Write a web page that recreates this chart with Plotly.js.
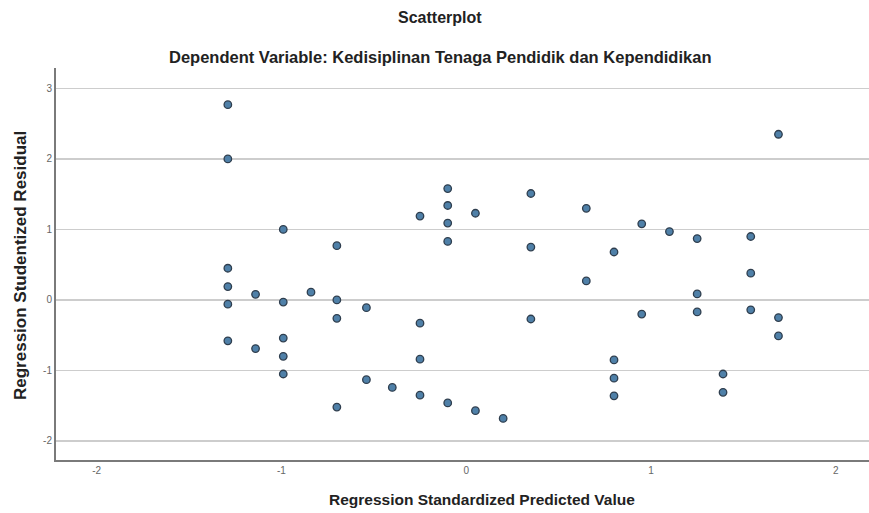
<!DOCTYPE html>
<html>
<head>
<meta charset="utf-8">
<script src="https://cdn.plot.ly/plotly-3.0.1.min.js"></script>
<style>html,body{margin:0;padding:0;background:#fff;}#chart{width:869px;height:513px;}</style>
</head>
<body>
<div id="chart"></div>
<script>
// Regression Standardized Predicted Value
const predicted = [
  -1.29, -1.29, -1.29, -1.29, -1.29, -1.29,
  -1.14, -1.14,
  -0.99, -0.99, -0.99, -0.99, -0.99,
  -0.84,
  -0.70, -0.70, -0.70, -0.70,
  -0.54, -0.54,
  -0.40,
  -0.25, -0.25, -0.25, -0.25,
  -0.10, -0.10, -0.10, -0.10, -0.10,
  0.05, 0.05,
  0.20,
  0.35, 0.35, 0.35,
  0.65, 0.65,
  0.80, 0.80, 0.80, 0.80,
  0.95, 0.95,
  1.10,
  1.25, 1.25, 1.25,
  1.39, 1.39,
  1.54, 1.54, 1.54,
  1.69, 1.69, 1.69
];
// Regression Studentized Residual
const residual = [
  2.77, 2.00, 0.45, 0.19, -0.06, -0.58,
  0.08, -0.69,
  1.00, -0.03, -0.54, -0.80, -1.05,
  0.11,
  0.77, 0.00, -0.26, -1.52,
  -0.11, -1.13,
  -1.24,
  1.19, -0.33, -0.84, -1.35,
  1.58, 1.34, 1.09, 0.83, -1.46,
  1.23, -1.57,
  -1.68,
  1.51, 0.75, -0.27,
  1.30, 0.27,
  0.68, -0.85, -1.11, -1.36,
  1.08, -0.20,
  0.97,
  0.87, 0.085, -0.17,
  -1.05, -1.31,
  0.90, 0.38, -0.14,
  2.35, -0.25, -0.51
];
const xTicks = [-2, -1, 0, 1, 2];
const yTicks = [-2, -1, 0, 1, 2, 3];
const titleText = "Scatterplot";
const subtitleText = "Dependent Variable: Kedisiplinan Tenaga Pendidik dan Kependidikan";
const xTitleText = "Regression Standardized Predicted Value";
const yTitleText = "Regression Studentized Residual";

const font = "Liberation Sans, Arial, sans-serif";

const trace = {
  type: "scatter",
  mode: "markers",
  x: predicted,
  y: residual,
  marker: {size: 7.5, color: "#4f80a8", line: {color: "#2f3e4e", width: 1.3}},
  hoverinfo: "x+y"
};

const H = 513 - 121;
const W = 813;
const layout = {
  width: 869, height: 513,
  margin: {l: 56, r: 0, t: 68, b: 53},
  paper_bgcolor: "#fff", plot_bgcolor: "#fff",
  showlegend: false,
  xaxis: {
    range: [-2.22, 2.18],
    tickvals: xTicks, ticktext: xTicks.map(String),
    showgrid: false, zeroline: false,
    showline: true, linecolor: "#7a7a7a", linewidth: 2,
    ticks: "", tickfont: {family: font, size: 10, color: "#666"},
    fixedrange: true
  },
  yaxis: {
    range: [-2.27, 3.29],
    tickvals: yTicks, ticktext: yTicks.map(String),
    showgrid: true, gridcolor: "#cdcdcd", gridwidth: 1.5,
    zeroline: false,
    showline: true, linecolor: "#7a7a7a", linewidth: 2,
    ticks: "", tickfont: {family: font, size: 10, color: "#666"},
    fixedrange: true
  },
  annotations: [
    {text: "<b>" + titleText + "</b>", xref: "paper", yref: "paper", x: (440-56)/W, y: (460-18)/H, xanchor: "center", yanchor: "middle", showarrow: false, font: {family: font, size: 16, color: "#222"}},
    {text: "<b>" + subtitleText + "</b>", xref: "paper", yref: "paper", x: (440-56)/W, y: (460-57)/H, xanchor: "center", yanchor: "middle", showarrow: false, font: {family: font, size: 16.5, color: "#222"}},
    {text: "<b>" + xTitleText + "</b>", xref: "paper", yref: "paper", x: (482-56)/W, y: (460-499)/H, xanchor: "center", yanchor: "middle", showarrow: false, font: {family: font, size: 15.5, color: "#222"}},
    {text: "<b>" + yTitleText + "</b>", xref: "paper", yref: "paper", x: (20-56)/W, y: (460-266)/H, xanchor: "center", yanchor: "middle", textangle: -90, showarrow: false, font: {family: font, size: 17, color: "#222"}}
  ]
};

Plotly.newPlot("chart", [trace], layout, {displayModeBar: false, staticPlot: true});
</script>
</body>
</html>
